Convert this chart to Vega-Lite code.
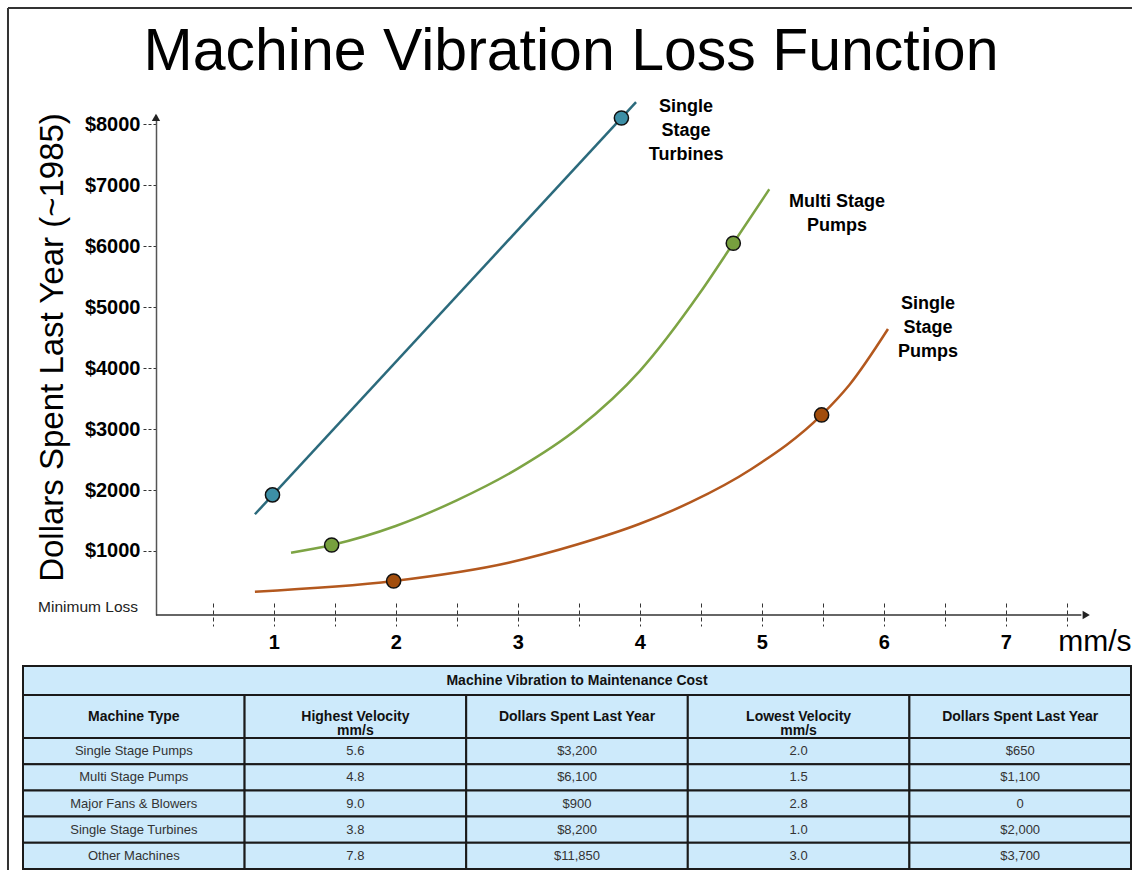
{
  "$schema": "https://vega.github.io/schema/vega-lite/v6.json",
  "padding": {"left": 6, "top": 6, "right": 0, "bottom": 0},
  "background": "white",
  "config": {"view": {"stroke": null}, "font": "Liberation Sans"},
  "datasets": {
    "curves": [
      {"series": "Single Stage Turbines", "x": 0.846, "y": 1602},
      {"series": "Single Stage Turbines", "x": 3.97, "y": 8361},
      {"series": "Multi Stage Pumps", "x": 1.142, "y": 972},
      {"series": "Multi Stage Pumps", "x": 1.475, "y": 1098},
      {"series": "Multi Stage Pumps", "x": 2.0, "y": 1410},
      {"series": "Multi Stage Pumps", "x": 2.5, "y": 1830},
      {"series": "Multi Stage Pumps", "x": 3.0, "y": 2350},
      {"series": "Multi Stage Pumps", "x": 3.5, "y": 3020},
      {"series": "Multi Stage Pumps", "x": 4.0, "y": 3950},
      {"series": "Multi Stage Pumps", "x": 4.5, "y": 5250},
      {"series": "Multi Stage Pumps", "x": 4.767, "y": 6046},
      {"series": "Multi Stage Pumps", "x": 5.062, "y": 6932},
      {"series": "Single Stage Pumps", "x": 0.846, "y": 333},
      {"series": "Single Stage Pumps", "x": 1.983, "y": 508},
      {"series": "Single Stage Pumps", "x": 2.925, "y": 808},
      {"series": "Single Stage Pumps", "x": 3.493, "y": 1110},
      {"series": "Single Stage Pumps", "x": 3.991, "y": 1438},
      {"series": "Single Stage Pumps", "x": 4.418, "y": 1800},
      {"series": "Single Stage Pumps", "x": 4.916, "y": 2345},
      {"series": "Single Stage Pumps", "x": 5.491, "y": 3231},
      {"series": "Single Stage Pumps", "x": 5.718, "y": 3723},
      {"series": "Single Stage Pumps", "x": 6.035, "y": 4641}
    ],
    "points": [
      {"series": "Single Stage Turbines", "x": 0.99, "y": 1920},
      {"series": "Single Stage Turbines", "x": 3.85, "y": 8100},
      {"series": "Multi Stage Pumps", "x": 1.475, "y": 1098},
      {"series": "Multi Stage Pumps", "x": 4.767, "y": 6046},
      {"series": "Single Stage Pumps", "x": 1.983, "y": 508},
      {"series": "Single Stage Pumps", "x": 5.491, "y": 3231}
    ],
    "labels": [
      {"label": "Single\nStage\nTurbines", "x": 4.38, "y": 8281},
      {"label": "Multi Stage\nPumps", "x": 5.617, "y": 6724},
      {"label": "Single\nStage\nPumps", "x": 6.363, "y": 5051}
    ],
    "header": [
      {"row": "h", "col": "type", "text": "Machine Type"},
      {"row": "h", "col": "vhigh", "text": "Highest Velocity\nmm/s"},
      {"row": "h", "col": "chigh", "text": "Dollars Spent Last Year"},
      {"row": "h", "col": "vlow", "text": "Lowest Velocity\nmm/s"},
      {"row": "h", "col": "clow", "text": "Dollars Spent Last Year"}
    ],
    "table": [
      {"type": "Single Stage Pumps", "vhigh": "5.6", "chigh": "$3,200", "vlow": "2.0", "clow": "$650"},
      {"type": "Multi Stage Pumps", "vhigh": "4.8", "chigh": "$6,100", "vlow": "1.5", "clow": "$1,100"},
      {"type": "Major Fans & Blowers", "vhigh": "9.0", "chigh": "$900", "vlow": "2.8", "clow": "0"},
      {"type": "Single Stage Turbines", "vhigh": "3.8", "chigh": "$8,200", "vlow": "1.0", "clow": "$2,000"},
      {"type": "Other Machines", "vhigh": "7.8", "chigh": "$11,850", "vlow": "3.0", "clow": "$3,700"}
    ]
  },
  "vconcat": [
    {
      "width": 1108,
      "height": 500,
      "title": {
        "text": "Machine Vibration Loss Function",
        "font": "Liberation Sans",
        "fontSize": 59,
        "fontWeight": "normal",
        "color": "#000000",
        "anchor": "middle",
        "frame": "group",
        "offset": 0,
        "dy": 75,
        "dx": -6
      },
      "layer": [
        {
          "data": {"name": "curves"},
          "mark": {"type": "line", "interpolate": "monotone", "strokeWidth": 2.5},
          "encoding": {
            "x": {
              "field": "x",
              "type": "quantitative",
              "scale": {"domain": [-1.055, 8.027], "nice": false, "zero": false},
              "axis": {
                "values": [0.5, 1, 1.5, 2, 2.5, 3, 3.5, 4, 4.5, 5, 5.5, 6, 6.5, 7, 7.5],
                "offset": -12,
                "domain": false,
                "ticks": true,
                "tickSize": 23,
                "tickDash": [4, 3],
                "tickColor": "#333333",
                "tickWidth": 1,
                "labelExpr": "datum.value % 1 === 0 ? '' + datum.value : ''",
                "labelFont": "Liberation Sans",
                "labelFontSize": 20,
                "labelFontWeight": "bold",
                "labelColor": "#000000",
                "labelPadding": 6,
                "labelOverlap": false,
                "labelFlush": false,
                "grid": false,
                "title": "mm/s",
                "titleFont": "Liberation Sans",
                "titleFontSize": 30,
                "titleFontWeight": "normal",
                "titleColor": "#000000",
                "titleAnchor": "end",
                "titleAlign": "right",
                "titleBaseline": "middle",
                "titleY": 38
              }
            },
            "y": {
              "field": "y",
              "type": "quantitative",
              "scale": {"domain": [-50, 8150], "nice": false, "zero": false},
              "axis": {
                "values": [1000, 2000, 3000, 4000, 5000, 6000, 7000, 8000],
                "offset": -133,
                "domain": true,
                "domainColor": "#555555",
                "domainWidth": 1.5,
                "ticks": true,
                "tickSize": 14,
                "tickDash": [3, 2],
                "tickColor": "#333333",
                "tickWidth": 1,
                "labelExpr": "'$' + datum.value",
                "labelFont": "Liberation Sans",
                "labelFontSize": 20,
                "labelFontWeight": "bold",
                "labelColor": "#000000",
                "labelPadding": 2,
                "labelOverlap": false,
                "labelFlush": false,
                "grid": false,
                "title": "Dollars Spent Last Year (~1985)",
                "titleFont": "Liberation Sans",
                "titleFontSize": 33,
                "titleFontWeight": "normal",
                "titleColor": "#000000",
                "titleAngle": 270,
                "titleAlign": "center",
                "titleBaseline": "middle",
                "titleX": -104,
                "titleY": 232
              }
            },
            "color": {
              "field": "series",
              "type": "nominal",
              "scale": {
                "domain": ["Single Stage Turbines", "Multi Stage Pumps", "Single Stage Pumps"],
                "range": ["#2b6a7c", "#7da444", "#b3581e"]
              },
              "legend": null
            }
          }
        },
        {
          "data": {"name": "points"},
          "mark": {"type": "point", "shape": "circle", "filled": true, "size": 200, "stroke": "#111111", "strokeWidth": 1.5, "opacity": 1},
          "encoding": {
            "x": {"field": "x", "type": "quantitative"},
            "y": {"field": "y", "type": "quantitative"},
            "fill": {
              "field": "series",
              "type": "nominal",
              "scale": {
                "domain": ["Single Stage Turbines", "Multi Stage Pumps", "Single Stage Pumps"],
                "range": ["#3d8fa6", "#77a03e", "#a24d0c"]
              },
              "legend": null
            }
          }
        },
        {
          "data": {"name": "labels"},
          "mark": {"type": "text", "font": "Liberation Sans", "fontSize": 18, "fontWeight": "bold", "lineBreak": "\n", "lineHeight": 24, "align": "center", "baseline": "middle", "color": "#000000"},
          "encoding": {
            "x": {"field": "x", "type": "quantitative"},
            "y": {"field": "y", "type": "quantitative"},
            "text": {"field": "label"}
          }
        },
        {
          "data": {"values": [{"note": "Minimum Loss"}]},
          "mark": {"type": "text", "font": "Liberation Sans", "fontSize": 15.5, "align": "right", "baseline": "middle", "color": "#222222"},
          "encoding": {
            "x": {"datum": -0.112},
            "y": {"datum": 82},
            "text": {"field": "note"}
          }
        },
        {
          "data": {"values": [{"note": "x axis"}]},
          "mark": {"type": "rule", "color": "#333333", "strokeWidth": 1.5},
          "encoding": {
            "x": {"datum": 0.035},
            "x2": {"datum": 7.62},
            "y": {"datum": -50}
          }
        },
        {
          "data": {"values": [{"note": "x arrow"}]},
          "mark": {"type": "point", "shape": "triangle-right", "filled": true, "size": 70, "color": "#222222", "opacity": 1},
          "encoding": {
            "x": {"datum": 7.66},
            "y": {"datum": -50}
          }
        },
        {
          "data": {"values": [{"note": "y arrow"}]},
          "mark": {"type": "point", "shape": "triangle-up", "filled": true, "size": 70, "color": "#222222", "opacity": 1},
          "encoding": {
            "x": {"datum": 0.035},
            "y": {"datum": 8110}
          }
        },
        {
          "data": {"values": [{"note": "frame left"}]},
          "mark": {"type": "rule", "color": "#333333", "strokeWidth": 2},
          "encoding": {
            "x": {"datum": -1.178},
            "y": {"datum": -4231},
            "y2": {"datum": 9905}
          }
        },
        {
          "data": {"values": [{"note": "frame top"}]},
          "mark": {"type": "rule", "color": "#333333", "strokeWidth": 2},
          "encoding": {
            "x": {"datum": -1.178},
            "x2": {"datum": 8.035},
            "y": {"datum": 9905}
          }
        }
      ]
    },
    {
      "vconcat": [
        {
          "width": 1108,
          "height": 29,
          "view": {"fill": "#cdeafb", "stroke": "#1a1a1a", "strokeWidth": 2},
          "data": {"values": [{"t": "Machine Vibration to Maintenance Cost"}]},
          "mark": {"type": "text", "font": "Liberation Sans", "fontSize": 14, "fontWeight": "bold", "color": "#111111"},
          "encoding": {"text": {"field": "t"}}
        },
        {
          "width": 1108,
          "height": 43,
          "data": {"name": "header"},
          "encoding": {
            "x": {"field": "col", "type": "nominal", "sort": ["type", "vhigh", "chigh", "vlow", "clow"], "axis": null, "scale": {"paddingInner": 0, "paddingOuter": 0}},
            "y": {"field": "row", "type": "nominal", "axis": null, "scale": {"paddingInner": 0, "paddingOuter": 0}}
          },
          "layer": [
            {"mark": {"type": "rect", "fill": "#cdeafb", "stroke": "#1a1a1a", "strokeWidth": 2}},
            {
              "mark": {"type": "text", "font": "Liberation Sans", "fontSize": 14, "fontWeight": "bold", "lineBreak": "\n", "lineHeight": 14, "color": "#111111"},
              "encoding": {"text": {"field": "text"}}
            }
          ]
        },
        {
          "width": 1108,
          "height": 131,
          "data": {"name": "table"},
          "transform": [{"fold": ["type", "vhigh", "chigh", "vlow", "clow"], "as": ["col", "text"]}],
          "encoding": {
            "x": {"field": "col", "type": "nominal", "sort": ["type", "vhigh", "chigh", "vlow", "clow"], "axis": null, "scale": {"paddingInner": 0, "paddingOuter": 0}},
            "y": {"field": "type", "type": "nominal", "sort": ["Single Stage Pumps", "Multi Stage Pumps", "Major Fans & Blowers", "Single Stage Turbines", "Other Machines"], "axis": null, "scale": {"paddingInner": 0, "paddingOuter": 0}}
          },
          "layer": [
            {"mark": {"type": "rect", "fill": "#cdeafb", "stroke": "#1a1a1a", "strokeWidth": 2}},
            {
              "mark": {"type": "text", "font": "Liberation Sans", "fontSize": 13, "color": "#333333"},
              "encoding": {"text": {"field": "text"}}
            }
          ]
        }
      ],
      "spacing": 0,
      "bounds": "flush"
    }
  ],
  "spacing": 51,
  "bounds": "flush"
}
